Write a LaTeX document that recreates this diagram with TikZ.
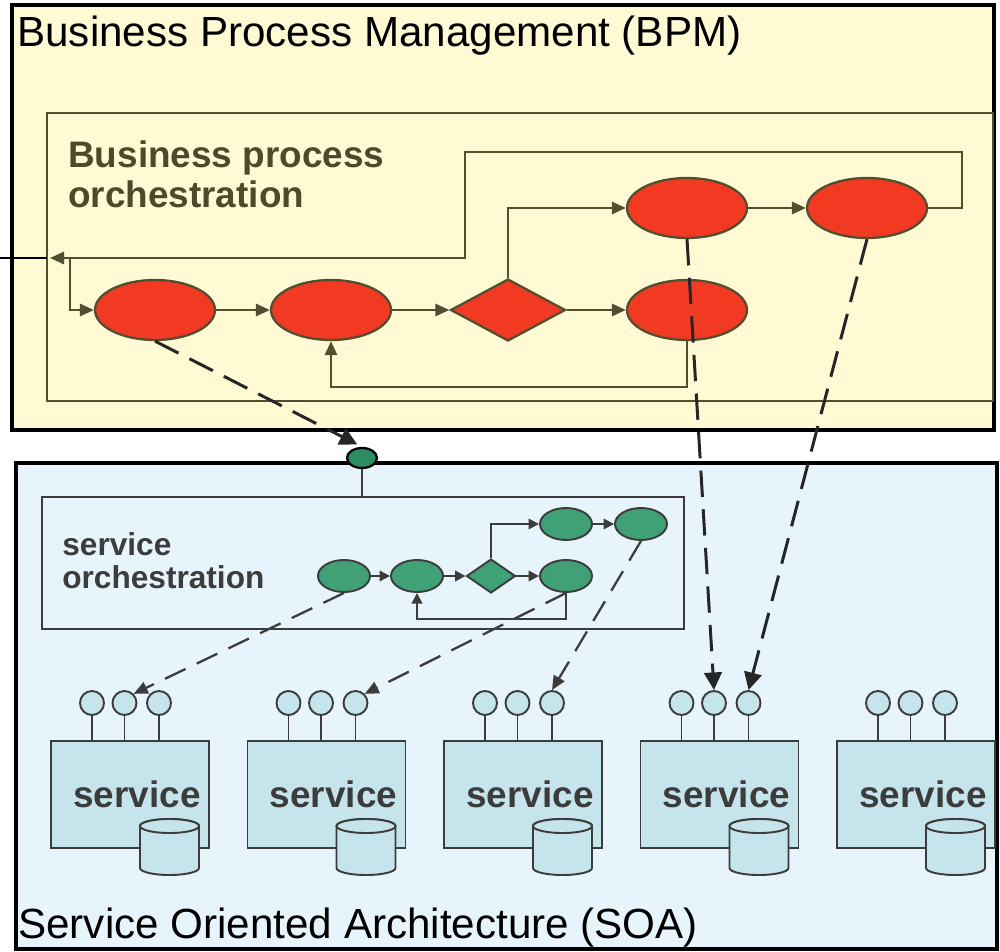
\documentclass[tikz,border=0pt]{standalone}
\usepackage{fontspec}
\setmainfont{Liberation Sans}
\usetikzlibrary{arrows.meta,positioning,calc,shapes.geometric}
\definecolor{bpmbg}{RGB}{255,249,212}
\definecolor{soabg}{RGB}{232,244,251}
\definecolor{bpmline}{RGB}{82,79,48}
\definecolor{bpmtext}{RGB}{77,74,44}
\definecolor{bpmred}{RGB}{242,58,34}
\definecolor{soagreen}{RGB}{64,160,118}
\definecolor{portgreen}{RGB}{44,142,96}
\definecolor{portblue}{RGB}{197,228,236}
\definecolor{soaline}{RGB}{60,60,60}

\begin{document}
\begin{tikzpicture}[x=0.02cm, y=-0.02cm,
    task/.style={ellipse, draw=bpmline, fill=bpmred, line width=1.3pt, inner sep=0pt, minimum width=2.4cm, minimum height=1.2cm},
    gate/.style={diamond, draw=bpmline, fill=bpmred, line width=1.3pt, inner sep=0pt, minimum width=2.3cm, minimum height=1.24cm},
    stask/.style={ellipse, draw=soaline, fill=soagreen, line width=1.1pt, inner sep=0pt, minimum width=1.04cm, minimum height=0.64cm},
    sgate/.style={diamond, draw=soaline, fill=soagreen, line width=1.1pt, inner sep=0pt, minimum width=0.98cm, minimum height=0.68cm},
    gport/.style={ellipse, draw=black, fill=portgreen, line width=1.3pt, inner sep=0pt, minimum width=0.6cm, minimum height=0.4cm},
    port/.style={circle, draw=soaline, fill=portblue, line width=1.1pt, inner sep=0pt, minimum size=0.48cm},
    svc/.style={rectangle, draw=soaline, fill=portblue, line width=1.1pt, minimum width=3.16cm, minimum height=2.14cm, text=soaline, font=\bfseries\fontsize{21}{24}\selectfont},
    db/.style={draw=soaline, fill=portblue, line width=1.1pt},
    flow/.style={draw=bpmline, line width=1.3pt, -{Triangle[length=8pt,width=7pt]}},
    sflow/.style={draw=soaline, line width=1.1pt, -{Triangle[length=6pt,width=6pt]}},
    sline/.style={draw=soaline, line width=1.1pt},
    call/.style={draw=black!85, line width=1.7pt, dash pattern=on 15pt off 7pt, -{Triangle[length=10pt,width=10pt]}},
    scall/.style={draw=soaline, line width=1.3pt, dash pattern=on 13pt off 7pt, -{Triangle[length=8pt,width=7pt]}}]
\useasboundingbox (0,0) rectangle (1000,952);

% the two layers
\draw[fill=bpmbg, line width=1.8pt] (12,5) rectangle (994,430);
\draw[fill=soabg, line width=1.8pt] (16,463) rectangle (997,949);
\node[anchor=base west, inner sep=0pt, font=\fontsize{24}{28}\selectfont] (bpmtitle) at (17,47) {Business Process Management (BPM)};
\node[anchor=base west, inner sep=0pt, font=\fontsize{24}{28}\selectfont] (soatitle) at (18,938) {Service Oriented Architecture (SOA)};

% business process orchestration
\draw[bpmline, line width=1.5pt] (47,113) rectangle (993,401);
\node[anchor=north west, align=left, inner sep=0pt, text=bpmtext, font=\bfseries\fontsize{21}{23.2}\selectfont] (bpotext) at (68,140) {Business process\\orchestration};
\path (155,310) node (e1) [task] {}
      (331,310) node (e2) [task] {}
      (508,310) node (d1) [gate] {}
      (687,310) node (e3) [task] {}
      (687,208) node (e4) [task] {}
      (867,208) node (e5) [task] {};
\coordinate (entry) at (0,258);
\coordinate (framein) at (47,258);
\coordinate (loopend) at (50,258);
\coordinate (split) at (70,258);
\draw[flow] (e1) -- (e2);
\draw[flow] (e2) -- (d1);
\draw[flow] (d1) -- (e3);
\draw[flow] (d1.north) |- (e4);
\draw[flow] (e4) -- (e5);
\draw[flow] (e3.south) -- ++(0,46) -| (e2.south);
\draw[flow] (e5.east) -| (962,152) -| (465,258) -- (loopend);
\draw[flow] (split) |- (e1);
\draw[line width=1.3pt] (entry) -- (framein);

% service orchestration
\draw[sline, line width=1.4pt] (42,497) rectangle (684,629);
\coordinate (softop) at (362,497);
\node[gport] (gp) at (362,458) {};
\draw[sline] (gp) -- (softop);
\node[anchor=north west, align=left, inner sep=0pt, text=soaline, font=\bfseries\fontsize{18}{18.7}\selectfont] (sotext) at (62,532) {service\\orchestration};
\path (344,576) node (g1) [stask] {}
      (417,576) node (g2) [stask] {}
      (491,576) node (gd) [sgate] {}
      (566,576) node (g3) [stask] {}
      (566,524) node (g4) [stask] {}
      (641,524) node (g5) [stask] {};
\draw[sflow] (g1) -- (g2);
\draw[sflow] (g2) -- (gd);
\draw[sflow] (gd) -- (g3);
\draw[sflow] (gd.north) |- (g4);
\draw[sflow] (g4) -- (g5);
\draw[sflow] (g3.south) -- ++(0,26) -| (g2.south);

% services
\foreach \i/\x in {1/51,2/247.5,3/444,4/640.5,5/837}{
  \node[svc] (s\i) at (\x+79,794.5) {\hspace{8pt}service};
  \foreach \j/\dx in {1/41,2/73.5,3/108}{
    \node[port] (p\i\j) at (\x+\dx,703) {};
    \draw[sline] (p\i\j) -- (p\i\j |- s\i.north);
  }
  \filldraw[db] (\x+89,826) -- (\x+89,868) arc[start angle=180, end angle=360, x radius=0.59cm, y radius=0.14cm]
     -- (\x+148,826) arc[start angle=0, end angle=180, x radius=0.59cm, y radius=0.14cm] -- cycle;
  \draw[db] (\x+118.5,826) ellipse[x radius=0.59cm, y radius=0.14cm];
}

% calls
\draw[call, shorten >=3pt] (e1.south) -- (gp.north);
\draw[call] (e4.south) -- (p42.north);
\draw[call] (e5.south) -- (p43.north);
\draw[scall] (g1.south) -- (p12.north east);
\draw[scall] (g3.south) -- (p23.north east);
\draw[scall] (g5.south) -- (p33.north);
\end{tikzpicture}
\end{document}
